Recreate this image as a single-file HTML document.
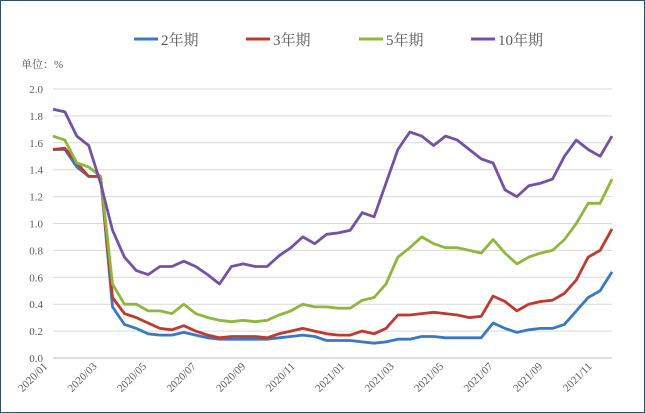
<!DOCTYPE html>
<html><head><meta charset="utf-8">
<style>
body{margin:0;background:#fff;}
#wrap{position:relative;width:645px;height:413px;box-sizing:border-box;border:1px solid #2f4f6f;background:#fff;overflow:hidden;}
text{font-family:"Liberation Serif","Noto Serif CJK SC",serif;}
</style></head>
<body>
<div id="wrap">
<svg id="chart" width="645" height="413"></svg>
</div>
<script>
const categories = [];
for (let y = 2020; y <= 2021; y++) for (let m = 1; m <= 12; m++) { const mm = String(m).padStart(2,'0'); categories.push(y+'/'+mm+'/01'); categories.push(y+'/'+mm+'/16'); }
const tickLabels = ["2020/01","2020/03","2020/05","2020/07","2020/09","2020/11","2021/01","2021/03","2021/05","2021/07","2021/09","2021/11"];
const yTicks = [0,0.2,0.4,0.6,0.8,1.0,1.2,1.4,1.6,1.8,2.0];
const seriesNames = ["2年期","3年期","5年期","10年期"];
const seriesColors = ["#3a78c2","#c0392f","#8db83c","#7451a4"];
const y2 = [1.55,1.55,1.42,1.35,1.35,0.38,0.25,0.22,0.18,0.17,0.17,0.19,0.17,0.15,0.14,0.14,0.14,0.14,0.14,0.15,0.16,0.17,0.16,0.13,0.13,0.13,0.12,0.11,0.12,0.14,0.14,0.16,0.16,0.15,0.15,0.15,0.15,0.26,0.22,0.19,0.21,0.22,0.22,0.25,0.35,0.45,0.50,0.64];
const y3 = [1.55,1.56,1.45,1.35,1.35,0.45,0.33,0.30,0.26,0.22,0.21,0.24,0.20,0.17,0.15,0.16,0.16,0.16,0.15,0.18,0.20,0.22,0.20,0.18,0.17,0.17,0.20,0.18,0.22,0.32,0.32,0.33,0.34,0.33,0.32,0.30,0.31,0.46,0.42,0.35,0.40,0.42,0.43,0.48,0.58,0.75,0.80,0.96];
const y5 = [1.65,1.62,1.45,1.42,1.35,0.55,0.40,0.40,0.35,0.35,0.33,0.40,0.33,0.30,0.28,0.27,0.28,0.27,0.28,0.32,0.35,0.40,0.38,0.38,0.37,0.37,0.43,0.45,0.55,0.75,0.82,0.90,0.85,0.82,0.82,0.80,0.78,0.88,0.78,0.70,0.75,0.78,0.80,0.88,1.00,1.15,1.15,1.33];
const y10 = [1.85,1.83,1.65,1.58,1.30,0.95,0.75,0.65,0.62,0.68,0.68,0.72,0.68,0.62,0.55,0.68,0.70,0.68,0.68,0.76,0.82,0.90,0.85,0.92,0.93,0.95,1.08,1.05,1.30,1.55,1.68,1.65,1.58,1.65,1.62,1.55,1.48,1.45,1.25,1.20,1.28,1.30,1.33,1.50,1.62,1.55,1.50,1.65];
const seriesData = [y2,y3,y5,y10];

const X0=52, X1=611, Y0=357, Y1=88, N=y2.length;
const xs = i => X0 + i*(X1-X0)/(N-1);
const xl = k => 47 + k*49.5;
const ys = v => Y0 - v*(Y0-Y1)/2.0;
const svg = document.getElementById('chart');
const NS='http://www.w3.org/2000/svg';
function mk(tag, attrs){const e=document.createElementNS(NS,tag);for(const k in attrs)e.setAttribute(k,attrs[k]);svg.appendChild(e);return e;}

yTicks.forEach(v=>{
  const g=mk('line',{x1:X0,x2:X1,y1:ys(v),y2:ys(v),stroke:v===0?'#bdbdbd':'#d9d9d9','stroke-width':1});
  
  
  const t=mk('text',{x:42,y:ys(v)+4,'text-anchor':'end','font-size':11,fill:'#595959'});
  t.textContent=v.toFixed(1);
  
  
});
tickLabels.forEach((lab,k)=>{
  const x=xl(k);
  const t=mk('text',{x:x,y:366,'text-anchor':'end','font-size':11,fill:'#595959',transform:`rotate(-45 ${x} 366)`});
  t.textContent=lab;
  
  
});
const u=mk('text',{x:20,y:67,'font-size':11,fill:'#595959'});
u.textContent='单位：%';



seriesData.forEach((d,s)=>{
  const pts=d.map((v,i)=>xs(i).toFixed(1)+','+ys(v).toFixed(1)).join(' ');
  const p=mk('polyline',{points:pts,fill:'none',stroke:seriesColors[s],'stroke-width':2.8,'stroke-linejoin':'round'});
  
  
});
const legX=[133,245,358,470];
seriesNames.forEach((n,s)=>{
  const l=mk('line',{x1:legX[s],x2:legX[s]+24,y1:38,y2:38,stroke:seriesColors[s],'stroke-width':3});
  
  
  const t=mk('text',{x:legX[s]+27,y:44,'font-size':15,fill:'#595959'});
  t.textContent=n;
  
  
});
</script>
</body></html>
